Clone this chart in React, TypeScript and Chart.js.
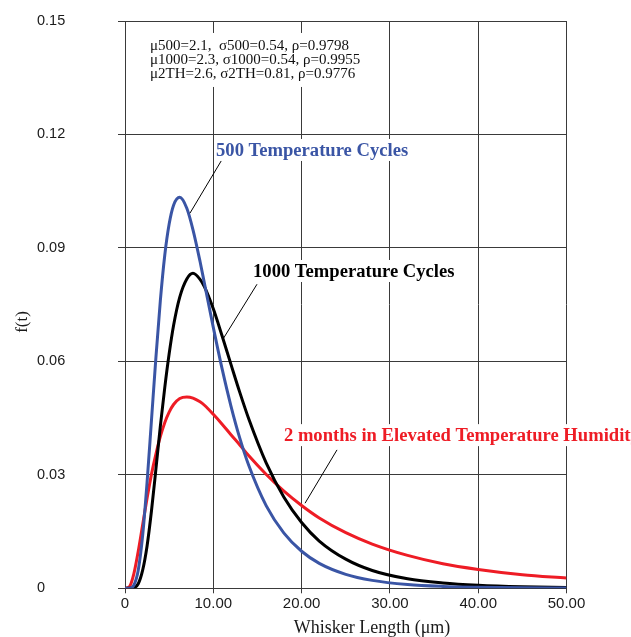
import React, { useEffect, useRef } from "react";
import { Chart, registerables } from "chart.js";

Chart.register(...registerables);

// ---- data ----
const xValues = [0, 0.5, 1, 1.5, 2, 2.5, 3, 3.5, 4, 4.5, 5, 5.5, 6.2, 7, 7.7, 8.5, 9, 10, 11, 12, 13, 14, 16, 18, 20, 22, 25, 28, 32, 36, 40, 45, 50];
const cycles500 = [0, 0.0, 0.0008, 0.0048, 0.014, 0.028, 0.0445, 0.061, 0.076, 0.088, 0.0963, 0.1013, 0.1034, 0.1005, 0.0948, 0.0864, 0.0806, 0.069, 0.058, 0.0482, 0.0397, 0.0326, 0.0218, 0.0146, 0.0098, 0.0066, 0.0037, 0.0021, 0.001, 0.0005, 0.00027, 0.00012, 0.00006];
const cycles1000 = [0, 0.0, 0.0001, 0.0012, 0.0048, 0.0112, 0.0205, 0.0315, 0.0428, 0.053, 0.062, 0.0695, 0.077, 0.0818, 0.0833, 0.0817, 0.0797, 0.0739, 0.0667, 0.0592, 0.0518, 0.0449, 0.0331, 0.0241, 0.0174, 0.0125, 0.0077, 0.0047, 0.0025, 0.0014, 0.0008, 0.0004, 0.0002];
const months2TH = [0, 0.0004, 0.0038, 0.0098, 0.0168, 0.0238, 0.0302, 0.0355, 0.0401, 0.0438, 0.0466, 0.0486, 0.0502, 0.0506, 0.0503, 0.0493, 0.0484, 0.046, 0.0434, 0.0406, 0.0379, 0.0351, 0.0301, 0.0257, 0.0219, 0.0186, 0.0147, 0.0117, 0.0087, 0.0065, 0.005, 0.0036, 0.0027];

const seriesNames = ["500 Temperature Cycles", "1000 Temperature Cycles", "2 months in Elevated Temperature Humidity"];
const xTickValues = [0, 10, 20, 30, 40, 50];
const xTickLabels = ["0", "10.00", "20.00", "30.00", "40.00", "50.00"];
const yTickValues = [0, 0.03, 0.06, 0.09, 0.12, 0.15];
const yTickLabels = ["0", "0.03", "0.06", "0.09", "0.12", "0.15"];
const statsLines = [
  "\u03bc500=2.1,  \u03c3500=0.54, \u03c1=0.9798",
  "\u03bc1000=2.3, \u03c31000=0.54, \u03c1=0.9955",
  "\u03bc2TH=2.6, \u03c32TH=0.81, \u03c1=0.9776",
];
const xTitle = "Whisker Length (\u03bcm)";
const yTitle = "f(t)";

// annotation anchors (data coordinates)
const statsAnchor = [2.83, 0.1434];
const labelAnchors = [
  [10.31, 0.1159],
  [14.5, 0.0839],
  [18.0, 0.0405],
];
const pointerLines = [
  [11.1, 0.1138, 7.36, 0.0992],
  [14.95, 0.0804, 11.1, 0.0659],
  [24.01, 0.0366, 20.39, 0.0225],
];

const BLUE = "#3a55a5";
const BLACK = "#000000";
const RED = "#ee1c25";
const GRID = "#3a3a3a";
const SERIF = '"Liberation Serif", "Times New Roman", serif';
const SANS = '"Liberation Sans", Arial, sans-serif';

const annotPlugin = {
  id: "annots",
  afterDatasetsDraw(chart: any) {
    const { ctx, scales } = chart;
    const xs = scales.x;
    const ys = scales.y;
    ctx.save();
    // stats block
    ctx.font = `15px ${SERIF}`;
    ctx.textBaseline = "middle";
    ctx.textAlign = "left";
    const sx = xs.getPixelForValue(statsAnchor[0]);
    const sy = ys.getPixelForValue(statsAnchor[1]);
    let w = 0;
    statsLines.forEach((l) => (w = Math.max(w, ctx.measureText(l).width)));
    ctx.fillStyle = "#fff";
    ctx.fillRect(sx - 5, sy - 13, w + 10, 14 * 2 + 26);
    ctx.fillStyle = "#111";
    statsLines.forEach((l, i) => ctx.fillText(l, sx, sy + i * 14));

    // pointer lines
    ctx.strokeStyle = "#000";
    ctx.lineWidth = 1;
    pointerLines.forEach((p) => {
      ctx.beginPath();
      ctx.moveTo(xs.getPixelForValue(p[0]), ys.getPixelForValue(p[1]));
      ctx.lineTo(xs.getPixelForValue(p[2]), ys.getPixelForValue(p[3]));
      ctx.stroke();
    });

    // series labels
    const colors = [BLUE, BLACK, RED];
    ctx.font = `bold 18.6px ${SERIF}`;
    seriesNames.forEach((name, i) => {
      const lx = xs.getPixelForValue(labelAnchors[i][0]);
      const ly = ys.getPixelForValue(labelAnchors[i][1]);
      const tw = ctx.measureText(name).width;
      ctx.fillStyle = "#fff";
      ctx.fillRect(lx - 2, ly - 11, tw + 4, 22);
      ctx.fillStyle = colors[i];
      ctx.fillText(name, lx, ly + 1);
    });

    // axis titles
    ctx.fillStyle = "#1a1a1a";
    ctx.font = `18px ${SERIF}`;
    ctx.textAlign = "center";
    ctx.fillText(xTitle, 372, 628);
    ctx.save();
    ctx.translate(23, 322);
    ctx.rotate(-Math.PI / 2);
    ctx.font = `17px ${SERIF}`;
    ctx.fillText(yTitle, 0, 0);
    ctx.restore();
    ctx.restore();
  },
};

export default function App() {
  const ref = useRef<HTMLCanvasElement | null>(null);
  useEffect(() => {
    document.body.style.margin = "0";
    const canvas = ref.current!;
    const mk = (vals: number[]) => xValues.map((x, i) => ({ x, y: vals[i] }));
    const chart = new Chart(canvas, {
      type: "line",
      data: {
        datasets: [
          { label: seriesNames[0], data: mk(cycles500), borderColor: BLUE, borderWidth: 3 },
          { label: seriesNames[1], data: mk(cycles1000), borderColor: BLACK, borderWidth: 3 },
          { label: seriesNames[2], data: mk(months2TH), borderColor: RED, borderWidth: 3 },
        ],
      },
      options: {
        responsive: false,
        animation: false,
        devicePixelRatio: 1,
        layout: { padding: { left: 37, top: 21, right: 64.5, bottom: 0 } },
        elements: {
          point: { radius: 0 },
          line: { cubicInterpolationMode: "monotone", fill: false },
        },
        plugins: { legend: { display: false }, tooltip: { enabled: false } },
        scales: {
          x: {
            type: "linear",
            min: 0,
            max: 50,
            afterBuildTicks: (s: any) => {
              s.ticks = xTickValues.map((v) => ({ value: v }));
            },
            afterFit: (s: any) => {
              s.height = 48.7;
            },
            ticks: {
              autoSkip: false,
              maxRotation: 0,
              padding: 2,
              color: "#1a1a1a",
              font: { family: SANS, size: 15 },
              callback: (_v: any, i: number) => xTickLabels[i],
            },
            grid: { color: GRID, lineWidth: 1, tickLength: 5, drawTicks: true },
            border: { display: true, color: GRID, width: 1 },
          },
          y: {
            min: 0,
            max: 0.15,
            afterBuildTicks: (s: any) => {
              s.ticks = yTickValues.map((v) => ({ value: v }));
            },
            afterFit: (s: any) => {
              s.width = 88;
            },
            ticks: {
              autoSkip: false,
              crossAlign: "far",
              color: "#1a1a1a",
              font: { family: SANS, size: 14.5 },
              callback: (_v: any, i: number) => yTickLabels[i],
            },
            grid: { color: GRID, lineWidth: 1, tickLength: 7, drawTicks: true },
            border: { display: true, color: GRID, width: 1 },
          },
        },
      },
      plugins: [annotPlugin],
    } as any);
    return () => chart.destroy();
  }, []);
  return (
    <div style={{ width: 631, height: 637 }}>
      <canvas ref={ref} width={631} height={637} style={{ display: "block" }} />
    </div>
  );
}
